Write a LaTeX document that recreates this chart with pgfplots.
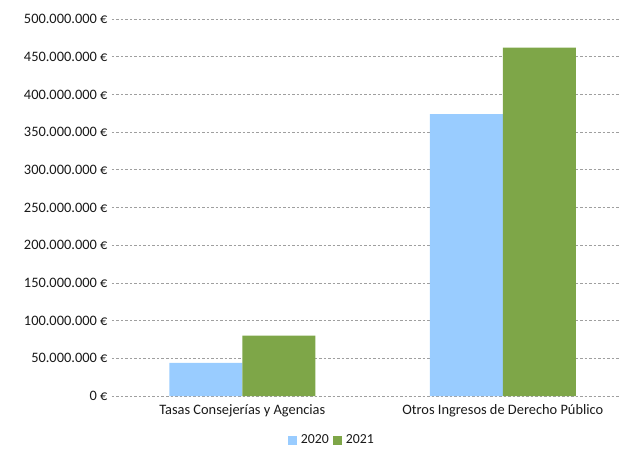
\documentclass[border=0pt]{standalone}
\usepackage{pgfplots}
\pgfplotsset{compat=1.18}
\usepackage{fontspec}
\setmainfont{Carlito}
\definecolor{cBlue}{RGB}{153,204,255}
\definecolor{cGreen}{RGB}{126,166,72}
\begin{document}
\begin{tikzpicture}
\useasboundingbox (-112pt,-56pt) rectangle (508pt,396pt);
\begin{axis}[
  at={(0pt,0pt)}, anchor=south west,
  scale only axis, width=508pt, height=377pt,
  ybar=0pt, bar width=73pt,
  xmin=-0.5, xmax=1.45, ymin=0, ymax=500000000,
  xtick=data,
  xticklabels={Tasas Consejerías y Agencias, Otros Ingresos de Derecho Público},
  ytick={0,50000000,100000000,150000000,200000000,250000000,300000000,350000000,400000000,450000000,500000000},
  yticklabels={0 €,50.000.000 €,100.000.000 €,150.000.000 €,200.000.000 €,250.000.000 €,300.000.000 €,350.000.000 €,400.000.000 €,450.000.000 €,500.000.000 €},
  scaled y ticks=false,
  ymajorgrids, major grid style={gray!75, dash pattern=on 2.5pt off 2pt, line width=0.7pt},
  extra y ticks={0}, extra y tick labels={},
  extra y tick style={grid style={solid, gray!70, line width=0.9pt}},
  axis line style={draw=none},
  tick style={draw=none},
  tick label style={font=\fontsize{14.4}{17}\selectfont, text=black!90},
  yticklabel style={xshift=-1pt},
  xticklabel style={yshift=-1pt},
  legend style={at={(0.433,-0.117)}, anchor=center, draw=none, font=\fontsize{13.8}{16}\selectfont, text=black!90, column sep=2pt},
  legend columns=2,
  legend image code/.code={\fill[#1] (0pt,-4.5pt) rectangle (9pt,4.5pt);},
]
\addplot[fill=cBlue, draw=none] coordinates {(0,44000000) (1,374000000)};
\addplot[fill=cGreen, draw=none] coordinates {(0,80000000) (1,462000000)};
\legend{2020,2021}
\end{axis}
\end{tikzpicture}
\end{document}
